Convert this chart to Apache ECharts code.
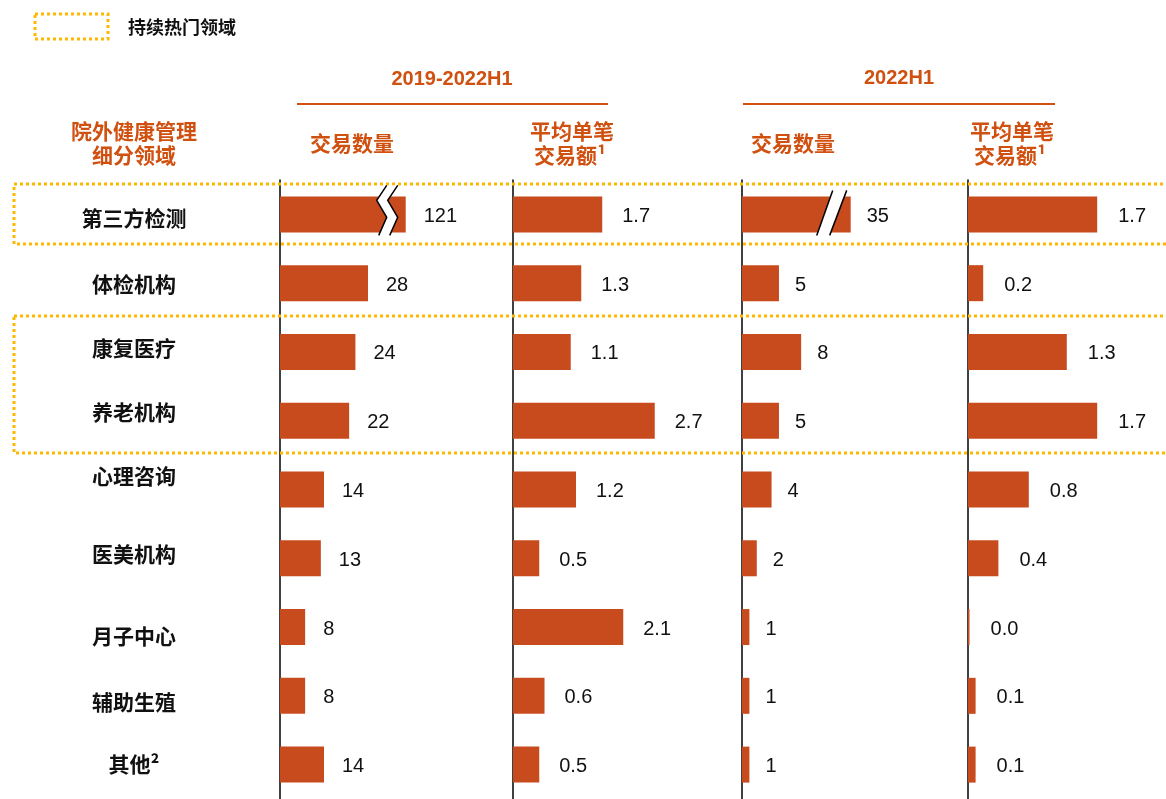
<!DOCTYPE html>
<html>
<head>
<meta charset="utf-8">
<script src="https://cdn.jsdelivr.net/npm/echarts@6/dist/echarts.min.js"></script>
<style>
  html, body { margin: 0; padding: 0; background: #fff; }
  #chart { width: 1166px; height: 799px; }
</style>
</head>
<body>
<div id="chart"></div>
<script>
// 院外健康管理细分领域
const categories = ['第三方检测', '体检机构', '康复医疗', '养老机构', '心理咨询', '医美机构', '月子中心', '辅助生殖', '其他²']
const dealCountAll = [121, 28, 24, 22, 14, 13, 8, 8, 14]
const avgDealAll = [1.7, 1.3, 1.1, 2.7, 1.2, 0.5, 2.1, 0.6, 0.5]
const dealCountH1 = [35, 5, 8, 5, 4, 2, 1, 1, 1]
const avgDealH1 = [1.7, 0.2, 1.3, 1.7, 0.8, 0.4, 0.02, 0.1, 0.1]
// 截断柱的显示长度（第三方检测）
const brokenAll = 40
const brokenH1 = 14.7

const BAR = '#C84B1E'
const ORANGE = '#D0500F'
const GOLD = '#FFB800'
const CJK = '"Noto Sans CJK SC", sans-serif'
const NUM = '"Liberation Sans", Arial, sans-serif'

// 版式：各面板位置 / 左侧标签的微调
const panels = [
  { left: 280, width: 220, max: 70, dist: 18 },
  { left: 513, width: 210, max: 4, dist: 20 },
  { left: 742, width: 210, max: 28.4, dist: 16 },
  { left: 968, width: 190, max: 2.5, dist: 21 }
]
const labelNudge = [4, 1, -4, -9, -13, -4, 9, 6, -1]

const chart = echarts.init(document.getElementById('chart'), null, { renderer: 'canvas' })

function barSeries (idx, values, labels, digits) {
  return {
    type: 'bar',
    xAxisIndex: idx,
    yAxisIndex: idx,
    barWidth: 36,
    data: values,
    itemStyle: { color: BAR },
    silent: true,
    label: {
      show: true,
      position: 'right',
      distance: panels[idx].dist,
      offset: [0, 2],
      fontFamily: NUM,
      fontSize: 20,
      color: '#111',
      formatter: p => {
        const v = labels[p.dataIndex]
        return digits ? v.toFixed(digits) : String(v)
      }
    }
  }
}

function text (x, y, str, opt) {
  return {
    type: 'text',
    x, y,
    style: Object.assign({
      text: str,
      align: 'center',
      verticalAlign: 'middle',
      fontFamily: CJK,
      fontWeight: 'bold',
      fontSize: 21,
      fill: ORANGE
    }, opt || {})
  }
}

const dotted = { stroke: GOLD, lineWidth: 3, lineDash: [3, 3], fill: null }

const graphics = [
  { type: 'rect', shape: { x: 35, y: 14, width: 73, height: 25 }, style: dotted },
  text(128, 27, '持续热门领域', { align: 'left', fill: '#111', fontSize: 18 }),
  text(452, 79, '2019-2022H1', { fontFamily: NUM, fontSize: 20 }),
  { type: 'line', shape: { x1: 297, y1: 104, x2: 608, y2: 104 }, style: { stroke: ORANGE, lineWidth: 2 } },
  text(899, 78, '2022H1', { fontFamily: NUM, fontSize: 20 }),
  { type: 'line', shape: { x1: 743, y1: 104, x2: 1055, y2: 104 }, style: { stroke: ORANGE, lineWidth: 2 } },
  text(134, 131, '院外健康管理'),
  text(134, 155, '细分领域'),
  text(352, 143, '交易数量'),
  text(572, 131, '平均单笔'),
  text(570, 155, '交易额¹'),
  text(793, 143, '交易数量'),
  text(1012, 131, '平均单笔'),
  text(1010, 155, '交易额¹'),
  { type: 'rect', shape: { x: 14, y: 184, width: 1170, height: 60 }, style: dotted, z: 50 },
  { type: 'rect', shape: { x: 14, y: 316, width: 1170, height: 137 }, style: dotted, z: 50 }
]

const option = {
  animation: false,
  grid: panels.map(p => ({ left: p.left, top: 180, width: p.width, height: 621 })),
  xAxis: panels.map((p, i) => ({
    type: 'value',
    gridIndex: i,
    min: 0,
    max: p.max,
    show: false,
    splitLine: { show: false }
  })),
  yAxis: panels.map((p, i) => ({
    type: 'category',
    gridIndex: i,
    data: categories,
    inverse: true,
    axisLine: { show: true, lineStyle: { color: '#000', width: 1.5 } },
    axisTick: { show: false },
    axisLabel: { show: false }
  })),
  series: [
    barSeries(0, dealCountAll.map((v, i) => i === 0 ? brokenAll : v), dealCountAll, 0),
    barSeries(1, avgDealAll, avgDealAll, 1),
    barSeries(2, dealCountH1.map((v, i) => i === 0 ? brokenH1 : v), dealCountH1, 0),
    barSeries(3, avgDealH1, avgDealH1, 1)
  ],
  graphic: { elements: graphics }
}

chart.setOption(option)

// 左侧分类标签，跟随类目轴位置
const catLabels = categories.map((c, i) => {
  const y = chart.convertToPixel({ yAxisIndex: 0 }, c)
  return text(134, y + labelNudge[i], c, { fill: '#111' })
})

// 截断标记
const [x1, y1] = chart.convertToPixel({ xAxisIndex: 0, yAxisIndex: 0 }, [brokenAll, 0])
const zigL = [[-19, -29], [-29, -14], [-19, 3], [-27, 21]]
const ptsL = zigL.map(([dx, dy]) => [x1 + dx, y1 + dy])
const ptsR = zigL.map(([dx, dy]) => [x1 + dx + 11, y1 + dy])

const [x3, y3] = chart.convertToPixel({ xAxisIndex: 2, yAxisIndex: 2 }, [brokenH1, 0])
const slL = [[x3 - 18, y3 - 24], [x3 - 34, y3 + 21]]
const slR = [[x3 - 4, y3 - 24], [x3 - 21, y3 + 21]]

const breakStyle = { stroke: '#000', lineWidth: 1.5, fill: null }
chart.setOption({
  graphic: {
    elements: graphics.concat(catLabels, [
      { type: 'polygon', z: 100, shape: { points: ptsL.concat(ptsR.slice().reverse()) }, style: { fill: '#fff' } },
      { type: 'polyline', z: 101, shape: { points: ptsL }, style: breakStyle },
      { type: 'polyline', z: 101, shape: { points: ptsR }, style: breakStyle },
      { type: 'polygon', z: 100, shape: { points: slL.concat(slR.slice().reverse()) }, style: { fill: '#fff' } },
      { type: 'polyline', z: 101, shape: { points: slL }, style: breakStyle },
      { type: 'polyline', z: 101, shape: { points: slR }, style: breakStyle }
    ])
  }
})

window.addEventListener('resize', () => chart.resize())
</script>
</body>
</html>
